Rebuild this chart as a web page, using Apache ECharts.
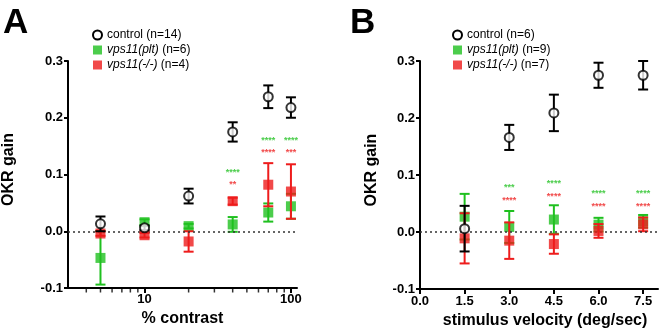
<!DOCTYPE html>
<html>
<head>
<meta charset="utf-8">
<script src="https://cdn.jsdelivr.net/npm/echarts@6/dist/echarts.min.js"></script>
<style>
  html, body { margin: 0; padding: 0; background: #fff; }
  #chart { width: 660px; height: 334px; }
</style>
</head>
<body>
<div id="chart"></div>
<script>
// Panel A: OKR gain vs % contrast (log axis)
const contrast = [5, 10, 20, 40, 70, 100];
const ctrlA = [0.013, 0.006, 0.062, 0.175, 0.237, 0.218];
const ctrlAErr = [0.013, 0.004, 0.013, 0.017, 0.020, 0.018];
const pltA = [-0.047, 0.016, 0.009, 0.012, 0.033, 0.044];
const pltAErr = [0.047, 0.005, 0.004, 0.013, 0.016, 0.022];
const koA = [-0.004, -0.007, -0.018, 0.053, 0.082, 0.070];
const koAErr = [0.004, 0.004, 0.018, 0.006, 0.038, 0.048];
const starsPltA = [[40, 0.1035, '****'], [70, 0.160, '****'], [100, 0.160, '****']];
const starsKoA = [[40, 0.082, '**'], [70, 0.139, '****'], [100, 0.139, '***']];
const contrastLabels = [10, 100];
const contrastMinorTicks = [4, 5, 6, 7, 8, 9, 20, 30, 40, 50, 60, 70, 80, 90];

// Panel B: OKR gain vs stimulus velocity
const velocity = [1.5, 3.0, 4.5, 6.0, 7.5];
const ctrlB = [0.006, 0.166, 0.209, 0.275, 0.275];
const ctrlBErr = [0.040, 0.022, 0.032, 0.022, 0.025];
const pltB = [0.027, 0.009, 0.022, 0.013, 0.019];
const pltBErr = [0.040, 0.028, 0.025, 0.012, 0.011];
const koB = [-0.011, -0.015, -0.021, 0.002, 0.0135];
const koBErr = [0.044, 0.032, 0.017, 0.012, 0.012];
const starsPltB = [[3.0, 0.0785, '***'], [4.5, 0.0845, '****'], [6.0, 0.0675, '****'], [7.5, 0.0675, '****']];
const starsKoB = [[3.0, 0.055, '****'], [4.5, 0.063, '****'], [6.0, 0.045, '****'], [7.5, 0.045, '****']];
const velocityLabels = [0, 1.5, 3.0, 4.5, 6.0, 7.5];

const gainTicks = [-0.1, 0.0, 0.1, 0.2, 0.3];
const GAIN_MIN = -0.1;

const GREEN = '#1fc01f';
const RED = '#ee1c1c';
const BLACK = '#000000';
const FONT = '"Liberation Sans", Arial, sans-serif';

const namesA = ['control (n=14)', 'vps11(plt) (n=6)', 'vps11(-/-) (n=4)'];
const namesB = ['control (n=6)', 'vps11(plt) (n=9)', 'vps11(-/-) (n=7)'];

function zip(xs, ys, es) {
  return xs.map((x, i) => es ? [x, ys[i], es[i]] : [x, ys[i]]);
}

// Vertical mean ± error bar with caps, drawn through the axis scales
function errorBars(color) {
  return function (params, api) {
    const x = api.value(0), m = api.value(1), e = api.value(2);
    const top = api.coord([x, m + e]);
    const bot = api.coord([x, m - e]);
    const hw = 5;
    const st = { stroke: color, lineWidth: 2 };
    return {
      type: 'group',
      children: [
        { type: 'line', shape: { x1: top[0], y1: top[1], x2: bot[0], y2: bot[1] }, style: st },
        { type: 'line', shape: { x1: top[0] - hw, y1: top[1], x2: top[0] + hw, y2: top[1] }, style: st },
        { type: 'line', shape: { x1: bot[0] - hw, y1: bot[1], x2: bot[0] + hw, y2: bot[1] }, style: st }
      ]
    };
  };
}

function groupSeries(idx, names, xs, c, ce, g, ge, r, re, sg, sr) {
  const base = { xAxisIndex: idx, yAxisIndex: idx };
  return [
    Object.assign({ type: 'custom', renderItem: errorBars(GREEN), data: zip(xs, g, ge), encode: { x: 0, y: 1 }, z: 2, silent: true }, base),
    Object.assign({ type: 'scatter', name: names[1], symbol: 'rect', symbolSize: 10, itemStyle: { color: GREEN }, data: zip(xs, g), z: 3 }, base),
    Object.assign({ type: 'custom', renderItem: errorBars(RED), data: zip(xs, r, re), encode: { x: 0, y: 1 }, z: 4, silent: true }, base),
    Object.assign({ type: 'scatter', name: names[2], symbol: 'rect', symbolSize: 10, itemStyle: { color: RED }, data: zip(xs, r), z: 5 }, base),
    Object.assign({ type: 'custom', renderItem: errorBars(BLACK), data: zip(xs, c, ce), encode: { x: 0, y: 1 }, z: 6, silent: true }, base),
    Object.assign({
      type: 'scatter', name: names[0], symbol: 'circle', symbolSize: 9,
      itemStyle: { color: '#fff', borderColor: BLACK, borderWidth: 2 },
      data: zip(xs, c), z: 7,
      markLine: {
        silent: true, symbol: 'none', label: { show: false },
        lineStyle: { type: [2, 3], color: '#333', width: 1.5 },
        data: [{ yAxis: 0 }]
      }
    }, base),
    Object.assign({
      type: 'scatter', symbolSize: 0, data: sg, z: 8, silent: true,
      label: { show: true, position: 'inside', formatter: p => p.data[2], color: GREEN, fontSize: 9, fontWeight: 'bold', fontFamily: FONT }
    }, base),
    Object.assign({
      type: 'scatter', symbolSize: 0, data: sr, z: 8, silent: true,
      label: { show: true, position: 'inside', formatter: p => p.data[2], color: RED, fontSize: 9, fontWeight: 'bold', fontFamily: FONT }
    }, base)
  ];
}

function legendFor(names, left) {
  return {
    orient: 'vertical', left: left, top: 28, padding: 0,
    itemWidth: 9, itemHeight: 9, itemGap: 1,
    selectedMode: false,
    data: [
      { name: names[0], icon: 'circle', itemStyle: { color: '#ffffff', borderColor: BLACK, borderWidth: 2, opacity: 1 } },
      { name: names[1], icon: 'rect', itemStyle: { color: GREEN, borderWidth: 0 } },
      { name: names[2], icon: 'rect', itemStyle: { color: RED, borderWidth: 0 } }
    ],
    formatter: function (n) {
      const m = n.match(/^(vps11\([^)]*\))(.*)$/);
      return m ? '{i|' + m[1] + '}{n|' + m[2] + '}' : '{n|' + n + '}';
    },
    textStyle: {
      fontFamily: FONT, fontSize: 12, color: BLACK, lineHeight: 14,
      rich: {
        i: { fontStyle: 'italic', fontFamily: FONT, fontSize: 12, color: BLACK },
        n: { fontFamily: FONT, fontSize: 12, color: BLACK }
      }
    }
  };
}

const tickFont = { fontFamily: FONT, fontSize: 13, fontWeight: 'bold', color: BLACK };
const nameFont = { fontFamily: FONT, fontSize: 16, fontWeight: 'bold', color: BLACK };

function gainAxis(idx, gap, pad) {
  return {
    type: 'value', gridIndex: idx, min: GAIN_MIN, max: 0.3, interval: 0.1,
    name: 'OKR gain', nameLocation: 'middle', nameGap: gap,
    nameTextStyle: Object.assign({ padding: pad }, nameFont),
    axisLine: { show: true, onZero: false, lineStyle: { color: BLACK, width: 2 } },
    axisTick: { show: true, length: 4, lineStyle: { color: BLACK, width: 2 }, customValues: gainTicks },
    axisLabel: Object.assign({ margin: 5, customValues: gainTicks, formatter: v => v.toFixed(1) }, tickFont),
    splitLine: { show: false }
  };
}

const option = {
  animation: false,
  backgroundColor: '#fff',
  title: [
    { text: 'A', left: 3, top: 6, padding: 0, textStyle: { fontFamily: FONT, fontSize: 35, fontWeight: 'bold', color: BLACK } },
    { text: 'B', left: 350, top: 6, padding: 0, textStyle: { fontFamily: FONT, fontSize: 35, fontWeight: 'bold', color: BLACK } }
  ],
  legend: [legendFor(namesA, 92), legendFor(namesB, 452)],
  grid: [
    { left: 68, right: 363, top: 61, bottom: 46 },
    { left: 420, right: 2, top: 61, bottom: 44 }
  ],
  xAxis: [
    {
      type: 'log', logBase: 10, gridIndex: 0, min: 3, max: 110,
      name: '% contrast', nameLocation: 'middle', nameGap: 18, nameTextStyle: nameFont,
      axisLine: { show: true, onZero: false, lineStyle: { color: BLACK, width: 2 } },
      axisTick: { show: true, length: 5, lineStyle: { color: BLACK, width: 2 }, customValues: contrastLabels },
      axisLabel: Object.assign({ margin: 5, customValues: contrastLabels, formatter: v => String(Math.round(v)) }, tickFont),
      splitLine: { show: false }, minorTick: { show: false }
    },
    {
      type: 'value', gridIndex: 1, min: 0, max: 8,
      name: 'stimulus velocity (deg/sec)', nameLocation: 'middle', nameGap: 18,
      nameTextStyle: Object.assign({ padding: [0, 0, 0, 12] }, nameFont),
      axisLine: { show: true, onZero: false, lineStyle: { color: BLACK, width: 2 } },
      axisTick: { show: true, length: 5, lineStyle: { color: BLACK, width: 2 }, customValues: velocityLabels },
      axisLabel: Object.assign({ margin: 6, customValues: velocityLabels, formatter: v => v.toFixed(1) }, tickFont),
      splitLine: { show: false }
    }
  ],
  yAxis: [gainAxis(0, 51, [0, 0, 0, 10]), gainAxis(1, 40, [0, 0, 0, 10])],
  series: [
    // minor ticks of the log contrast axis, hanging below the axis line
    {
      type: 'scatter', xAxisIndex: 0, yAxisIndex: 0, silent: true, clip: false, z: 1,
      symbol: 'rect', symbolSize: [1.5, 4], symbolOffset: [0, 2.5],
      itemStyle: { color: BLACK },
      data: contrastMinorTicks.map(v => [v, GAIN_MIN])
    }
  ]
    .concat(groupSeries(0, namesA, contrast, ctrlA, ctrlAErr, pltA, pltAErr, koA, koAErr, starsPltA, starsKoA))
    .concat(groupSeries(1, namesB, velocity, ctrlB, ctrlBErr, pltB, pltBErr, koB, koBErr, starsPltB, starsKoB))
};

const chart = echarts.init(document.getElementById('chart'), null, { renderer: 'canvas' });
chart.setOption(option);
</script>
</body>
</html>
